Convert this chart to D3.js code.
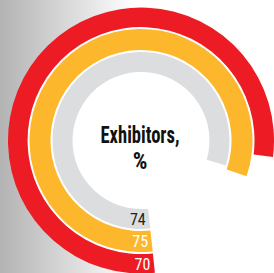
<!DOCTYPE html>
<html>
<head>
<meta charset="utf-8">
<script src="https://cdn.jsdelivr.net/npm/d3@7/dist/d3.min.js"></script>
<style>
  html, body { margin: 0; padding: 0; background: #fff; }
  svg { display: block; }
</style>
</head>
<body>
<svg id="chart" width="274" height="273"></svg>
<script>
// ---- data ----
const rings = ["outer", "middle", "inner"];
const values = [70, 75, 74];
const valueLabels = ["70", "75", "74"];
const ringColors = ["#ed1c24", "#fdb72d", "#dcdddf"];
const labelColors = ["#ffffff", "#ffffff", "#231f20"];
const titleLines = ["Exhibitors,", "%"];

// ---- layout ----
const W = 274, H = 273;
const cx = 141, cy = 140.5;
const radii = [[113.5, 133], [90.5, 111.5], [68.5, 88.5]];
const startDeg = 174;

const svg = d3.select("#chart");
const defs = svg.append("defs");
const grad = defs.append("linearGradient")
  .attr("id", "bg").attr("gradientUnits", "userSpaceOnUse")
  .attr("x1", 0).attr("y1", 0).attr("x2", 135).attr("y2", 0);
grad.append("stop").attr("offset", 0).attr("stop-color", "#b3b3b3");
grad.append("stop").attr("offset", 1).attr("stop-color", "#ffffff");

svg.append("rect").attr("width", W).attr("height", H).attr("fill", "url(#bg)");

const g = svg.append("g").attr("transform", `translate(${cx},${cy})`);

g.append("circle").attr("r", radii[0][0]).attr("fill", "#fff");

const sweep = d3.scaleLinear().domain([0, 100]).range([120, 353]);
const rad = d => d * Math.PI / 180;

const arc = d3.arc();

g.selectAll("path.ring")
  .data(rings)
  .join("path")
  .attr("class", "ring")
  .attr("fill", (d, i) => ringColors[i])
  .attr("d", (d, i) => arc({
    innerRadius: radii[i][0],
    outerRadius: radii[i][1],
    startAngle: rad(startDeg),
    endAngle: rad(startDeg + sweep(values[i]))
  }));

// value labels at the start of each ring
g.selectAll("text.val")
  .data(rings)
  .join("text")
  .attr("class", "val")
  .attr("text-anchor", "end")
  .attr("font-family", "'Liberation Sans Narrow', 'Roboto Condensed', 'DejaVu Sans Condensed', sans-serif")
  .attr("font-size", 16)
  .attr("fill", (d, i) => labelColors[i])
  .attr("x", (d, i) => {
    const r = (radii[i][0] + radii[i][1]) / 2;
    return r * Math.sin(rad(startDeg)) - 3.5;
  })
  .attr("y", (d, i) => {
    const r = (radii[i][0] + radii[i][1]) / 2;
    return -r * Math.cos(rad(startDeg)) + 6.5;
  })
  .text((d, i) => valueLabels[i]);

// title
const title = g.append("text")
  .attr("text-anchor", "middle")
  .attr("font-family", "'Liberation Sans Narrow', 'Roboto Condensed', 'DejaVu Sans Condensed', sans-serif")
  .attr("font-weight", "bold")
  .attr("font-size", 23)
  .attr("fill", "#111");
title.append("tspan").attr("x", -1).attr("y", 2)
  .attr("textLength", 79).attr("lengthAdjust", "spacingAndGlyphs")
  .text(titleLines[0]);
title.append("tspan").attr("x", -1).attr("y", 28).text(titleLines[1]);
</script>
</body>
</html>
